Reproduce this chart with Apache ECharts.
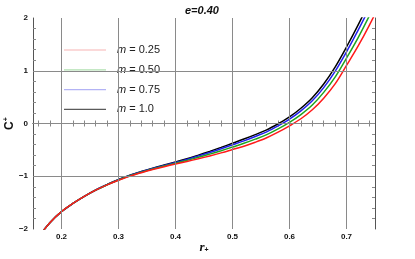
<!DOCTYPE html>
<html><head><meta charset="utf-8">
<script src="https://cdn.jsdelivr.net/npm/echarts@6/dist/echarts.min.js"></script>
<style>html,body{margin:0;padding:0;background:#fff}#c{width:415px;height:259px}</style>
</head><body><div id="c"></div>
<script>
const rValues = [0.16,0.18,0.20,0.22,0.24,0.26,0.28,0.30,0.32,0.34,0.36,0.38,0.40,0.42,0.44,0.46,0.48,0.50,0.52,0.54,0.56,0.58,0.60,0.62,0.64,0.66,0.68,0.70,0.72,0.74,0.76];
const cM025 = [-2.15,-1.875,-1.67,-1.516,-1.382,-1.264,-1.164,-1.076,-0.998,-0.932,-0.872,-0.818,-0.768,-0.719,-0.669,-0.615,-0.557,-0.494,-0.43,-0.355,-0.27,-0.165,-0.045,0.09,0.26,0.48,0.75,1.10,1.46,1.86,2.30];
const cM050 = [-2.15,-1.875,-1.67,-1.516,-1.382,-1.263,-1.162,-1.070,-0.991,-0.923,-0.862,-0.806,-0.753,-0.699,-0.641,-0.580,-0.515,-0.446,-0.376,-0.297,-0.21,-0.101,0.023,0.17,0.35,0.59,0.88,1.24,1.62,2.04,2.50];
const cM075 = [-2.15,-1.875,-1.67,-1.516,-1.381,-1.262,-1.160,-1.066,-0.985,-0.916,-0.853,-0.795,-0.740,-0.681,-0.617,-0.550,-0.479,-0.405,-0.329,-0.246,-0.158,-0.045,0.083,0.24,0.43,0.68,0.99,1.36,1.76,2.19,2.66];
const cM100 = [-2.15,-1.875,-1.67,-1.516,-1.381,-1.261,-1.158,-1.062,-0.980,-0.910,-0.846,-0.787,-0.730,-0.668,-0.600,-0.528,-0.453,-0.375,-0.295,-0.21,-0.12,-0.005,0.125,0.29,0.49,0.75,1.07,1.45,1.86,2.30,2.78];
const seriesNames = ['m = 0.25','m = 0.50','m = 0.75','m = 1.0'];
const xTickLabels = [0.2,0.3,0.4,0.5,0.6,0.7];
const yTickLabels = [-2,-1,0,1,2];
const xTicks = [0.16,0.18,0.2,0.22,0.24,0.26,0.28,0.3,0.32,0.34,0.36,0.38,0.4,0.42,0.44,0.46,0.48,0.5,0.52,0.54,0.56,0.58,0.6,0.62,0.64,0.66,0.68,0.7,0.72,0.74];
const yTicks = [-1.8,-1.6,-1.4,-1.2,-1,-0.8,-0.6,-0.4,-0.2,0,0.2,0.4,0.6,0.8,1,1.2,1.4,1.6,1.8];
const xGrid = [0.2,0.3,0.4,0.5,0.6,0.7];
const yGrid = [-1,0,1];
const titleText = 'e=0.40';

const colors = ['#ff1a1a','#1fa51f','#2020ee','#000000'];
const paleColors = ['#f7b3b3','#b0e0b0','#b3b3f5','#5a5a5a'];
const dataSets = [cM025,cM050,cM075,cM100];
const pair = arr => rValues.map((r,i)=>[r,arr[i]]);
const chart = echarts.init(document.getElementById('c'), null, {renderer:'canvas'});
const frame = {show:true, lineStyle:{color:'#555', width:1}};
const tickStyle = {show:true, inside:true, length:3, lineStyle:{color:'#888', width:1}};
const labelFont = {fontFamily:'Liberation Sans, Arial', fontWeight:'bold', fontSize:8, color:'#111'};
const curves = [3,2,1,0].map(i=>({
  type:'line', name:seriesNames[i], data:pair(dataSets[i]), smooth:0.35, symbol:'none', showSymbol:false,
  lineStyle:{color:colors[i], width:1.5}, itemStyle:{color:colors[i]}, clip:true, z:3, animation:false
}));
chart.setOption({
  animation:false,
  title:{text:titleText, left:180, top:0, textStyle:{fontFamily:'Liberation Sans, Arial', fontSize:11, fontWeight:'bold', fontStyle:'italic', color:'#111'}},
  grid:{left:33, right:40, top:18, bottom:30, outerBoundsMode:'none', containLabel:false},
  legend:{
    orient:'vertical', left:59, top:39, itemWidth:42, itemHeight:1.2, itemGap:7.8, icon:'rect',
    data:seriesNames.map((n,i)=>({name:n, itemStyle:{color:paleColors[i]}})),
    formatter: n => '{i|m}{t|' + n.slice(1) + '}',
    textStyle:{fontFamily:'Liberation Sans, Arial', fontSize:11, color:'#222', padding:[0,0,0,6], lineHeight:12,
      rich:{i:{fontStyle:'italic', fontFamily:'Liberation Sans, Arial', fontSize:11, color:'#222', lineHeight:12},
            t:{fontFamily:'Liberation Sans, Arial', fontSize:11, color:'#222', lineHeight:12}}}
  },
  xAxis:[
    {type:'value', min:0.15, max:0.75, position:'bottom', axisLine:frame,
     axisTick:Object.assign({customValues:xTicks}, tickStyle),
     axisLabel:Object.assign({customValues:xTickLabels, margin:4, formatter:v=>v.toFixed(1)}, labelFont),
     splitLine:{show:false},
     name:'{a|r}{s|+}', nameLocation:'middle', nameGap:12, nameMoveOverlap:false,
     nameTextStyle:{rich:{a:{fontFamily:'Liberation Serif, Times New Roman', fontStyle:'italic', fontWeight:'bold', fontSize:13, color:'#111'}, s:{fontSize:7, fontWeight:'bold', verticalAlign:'bottom', color:'#111', padding:[6,0,0,0]}}}},
    {type:'value', min:0.15, max:0.75, position:'top', axisLine:frame,
     axisTick:Object.assign({customValues:xTicks}, tickStyle), axisLabel:{show:false}, splitLine:{show:false}}
  ],
  yAxis:[
    {type:'value', min:-2, max:2, interval:1, position:'left', axisLine:frame,
     axisTick:Object.assign({customValues:yTicks}, tickStyle),
     axisLabel:Object.assign({customValues:yTickLabels, margin:5, formatter:v=>v<0?'\u2212'+Math.abs(v):String(v)}, labelFont),
     splitLine:{show:false},
     name:'{a|C}{s|+}', nameLocation:'middle', nameGap:17, nameMoveOverlap:false,
     nameTextStyle:{rich:{a:{fontFamily:'Liberation Sans, Arial', fontWeight:'bold', fontSize:12, color:'#111'}, s:{fontSize:7, fontWeight:'bold', color:'#111', padding:[0,0,6,0]}}}},
    {type:'value', min:-2, max:2, interval:1, position:'right', axisLine:frame,
     axisTick:Object.assign({customValues:yTicks}, tickStyle), axisLabel:{show:false}, splitLine:{show:false}}
  ],
  series:[{
    type:'line', data:[], z:1, silent:true, animation:false,
    markLine:{silent:true, symbol:['none','none'], label:{show:false}, animation:false,
      lineStyle:{color:'#8a8a8a', type:'solid', width:1},
      data: xGrid.map(v=>({xAxis:v})).concat(yGrid.map(v=>({yAxis:v})))}
  }].concat(curves)
});
</script></body></html>
